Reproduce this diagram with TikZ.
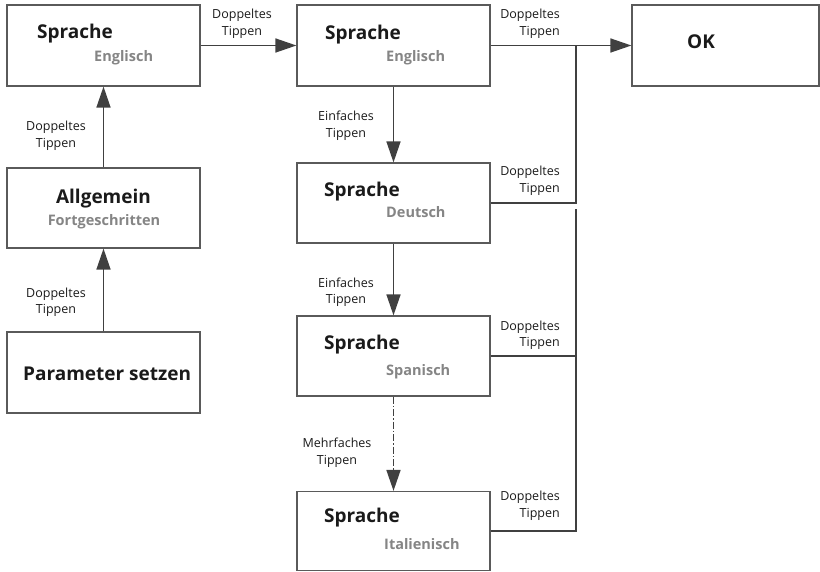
\documentclass[tikz,border=0pt]{standalone}
\usepackage{fontspec}
\setmainfont{Open Sans}
\usetikzlibrary{arrows.meta}
\definecolor{linec}{HTML}{404040}
\definecolor{boxc}{HTML}{5A5A5A}
\definecolor{subc}{HTML}{858585}
\definecolor{txtc}{HTML}{1A1A1A}
\begin{document}
\begin{tikzpicture}[x=1pt,y=-1pt,
  box/.style={draw=boxc,line width=1.2pt,minimum width=193pt,minimum height=80pt,inner sep=0pt,fill=white},
  ttl/.style={font=\fontsize{19}{22}\selectfont\bfseries,text=txtc,inner sep=0pt},
  sub/.style={font=\fontsize{14.5}{17}\selectfont\bfseries,text=subc,inner sep=0pt},
  lbl/.style={font=\fontsize{12.5}{17}\selectfont,text=txtc,inner sep=0pt,align=center},
  lblr/.style={lbl,align=right},
  conn/.style={draw=linec,line width=1.6pt},
  arr/.style={conn,-{Triangle[length=21pt,width=14pt]}},
  dashdot/.style={dash pattern=on 7pt off 2pt on 1.5pt off 2pt}
]
\useasboundingbox (0,0) rectangle (820,572);
% left column
\node[box,minimum height=81pt] (L1) at (103.5,45.5) {};
\node[box] (L2) at (103.5,208) {};
\node[box,minimum height=81pt] (L3) at (103.5,372.5) {};
% middle column
\node[box,minimum height=81pt] (M1) at (393.5,45.5) {};
\node[box] (M2) at (393.5,203) {};
\node[box] (M3) at (393.5,356) {};
\node[box,minimum height=79pt] (M4) at (393.5,531) {};
% OK box
\node[box,minimum width=187pt,minimum height=81pt] (OK) at (725.5,45.5) {};

% texts
\node[ttl,anchor=base west] (L1t) at (37,39) {Sprache};
\node[sub,anchor=base west] (L1s) at (94,62) {Englisch};
\node[ttl,anchor=base] (L2t) at (103.5,204) {Allgemein};
\node[sub,anchor=base] (L2s) at (104,226) {Fortgeschritten};
\node[ttl,anchor=base west] (L3t) at (23,381) {Parameter setzen};
\node[ttl,anchor=base west] (M1t) at (325,40) {Sprache};
\node[sub,anchor=base west] (M1s) at (386,62) {Englisch};
\node[ttl,anchor=base west] (M2t) at (324,197) {Sprache};
\node[sub,anchor=base west] (M2s) at (386,218) {Deutsch};
\node[ttl,anchor=base west] (M3t) at (324,349) {Sprache};
\node[sub,anchor=base west] (M3s) at (386,375) {Spanisch};
\node[ttl,anchor=base west] (M4t) at (324,522) {Sprache};
\node[sub,anchor=base west] (M4s) at (384,549) {Italienisch};
\node[ttl,anchor=base west] (OKt) at (687,49) {OK};

% connectors
\draw[arr] (L3.north) -- (L2.south);
\draw[arr] (L2.north) -- (L1.south);
\draw[arr] (L1.east) -- (M1.west);
\draw[arr] (M1.south) -- (M2.north);
\draw[arr] (M2.south) -- (M3.north);
\draw[arr,dashdot] (M3.south) -- (M4.north);
\draw[arr] (M1.east) -- (OK.west);
\coordinate (j1) at (576,45.5);
\coordinate (j2) at (576,209);
\draw[conn] (M2.east) -| (j1);
\draw[conn] (M4.east) -| (j2);
\draw[conn] (M3.east) -- (M3.east -| j2);

% labels (anchor = baseline of the last line)
\node[lbl,anchor=base] (a1) at (242,36) {Doppeltes\\Tippen};
\node[lbl,anchor=base] (a2) at (56,148) {Doppeltes\\Tippen};
\node[lbl,anchor=base] (a3) at (56,314) {Doppeltes\\Tippen};
\node[lbl,anchor=base] (a4) at (346,138) {Einfaches\\Tippen};
\node[lbl,anchor=base] (a5) at (346,304) {Einfaches\\Tippen};
\node[lbl,anchor=base] (a6) at (337,464) {Mehrfaches\\Tippen};
\node[lblr,anchor=base east] (r1) at (560,36) {Doppeltes\\Tippen};
\node[lblr,anchor=base east] (r2) at (560,193) {Doppeltes\\Tippen};
\node[lblr,anchor=base east] (r3) at (560,347) {Doppeltes\\Tippen};
\node[lblr,anchor=base east] (r4) at (560,517) {Doppeltes\\Tippen};
\end{tikzpicture}
\end{document}
